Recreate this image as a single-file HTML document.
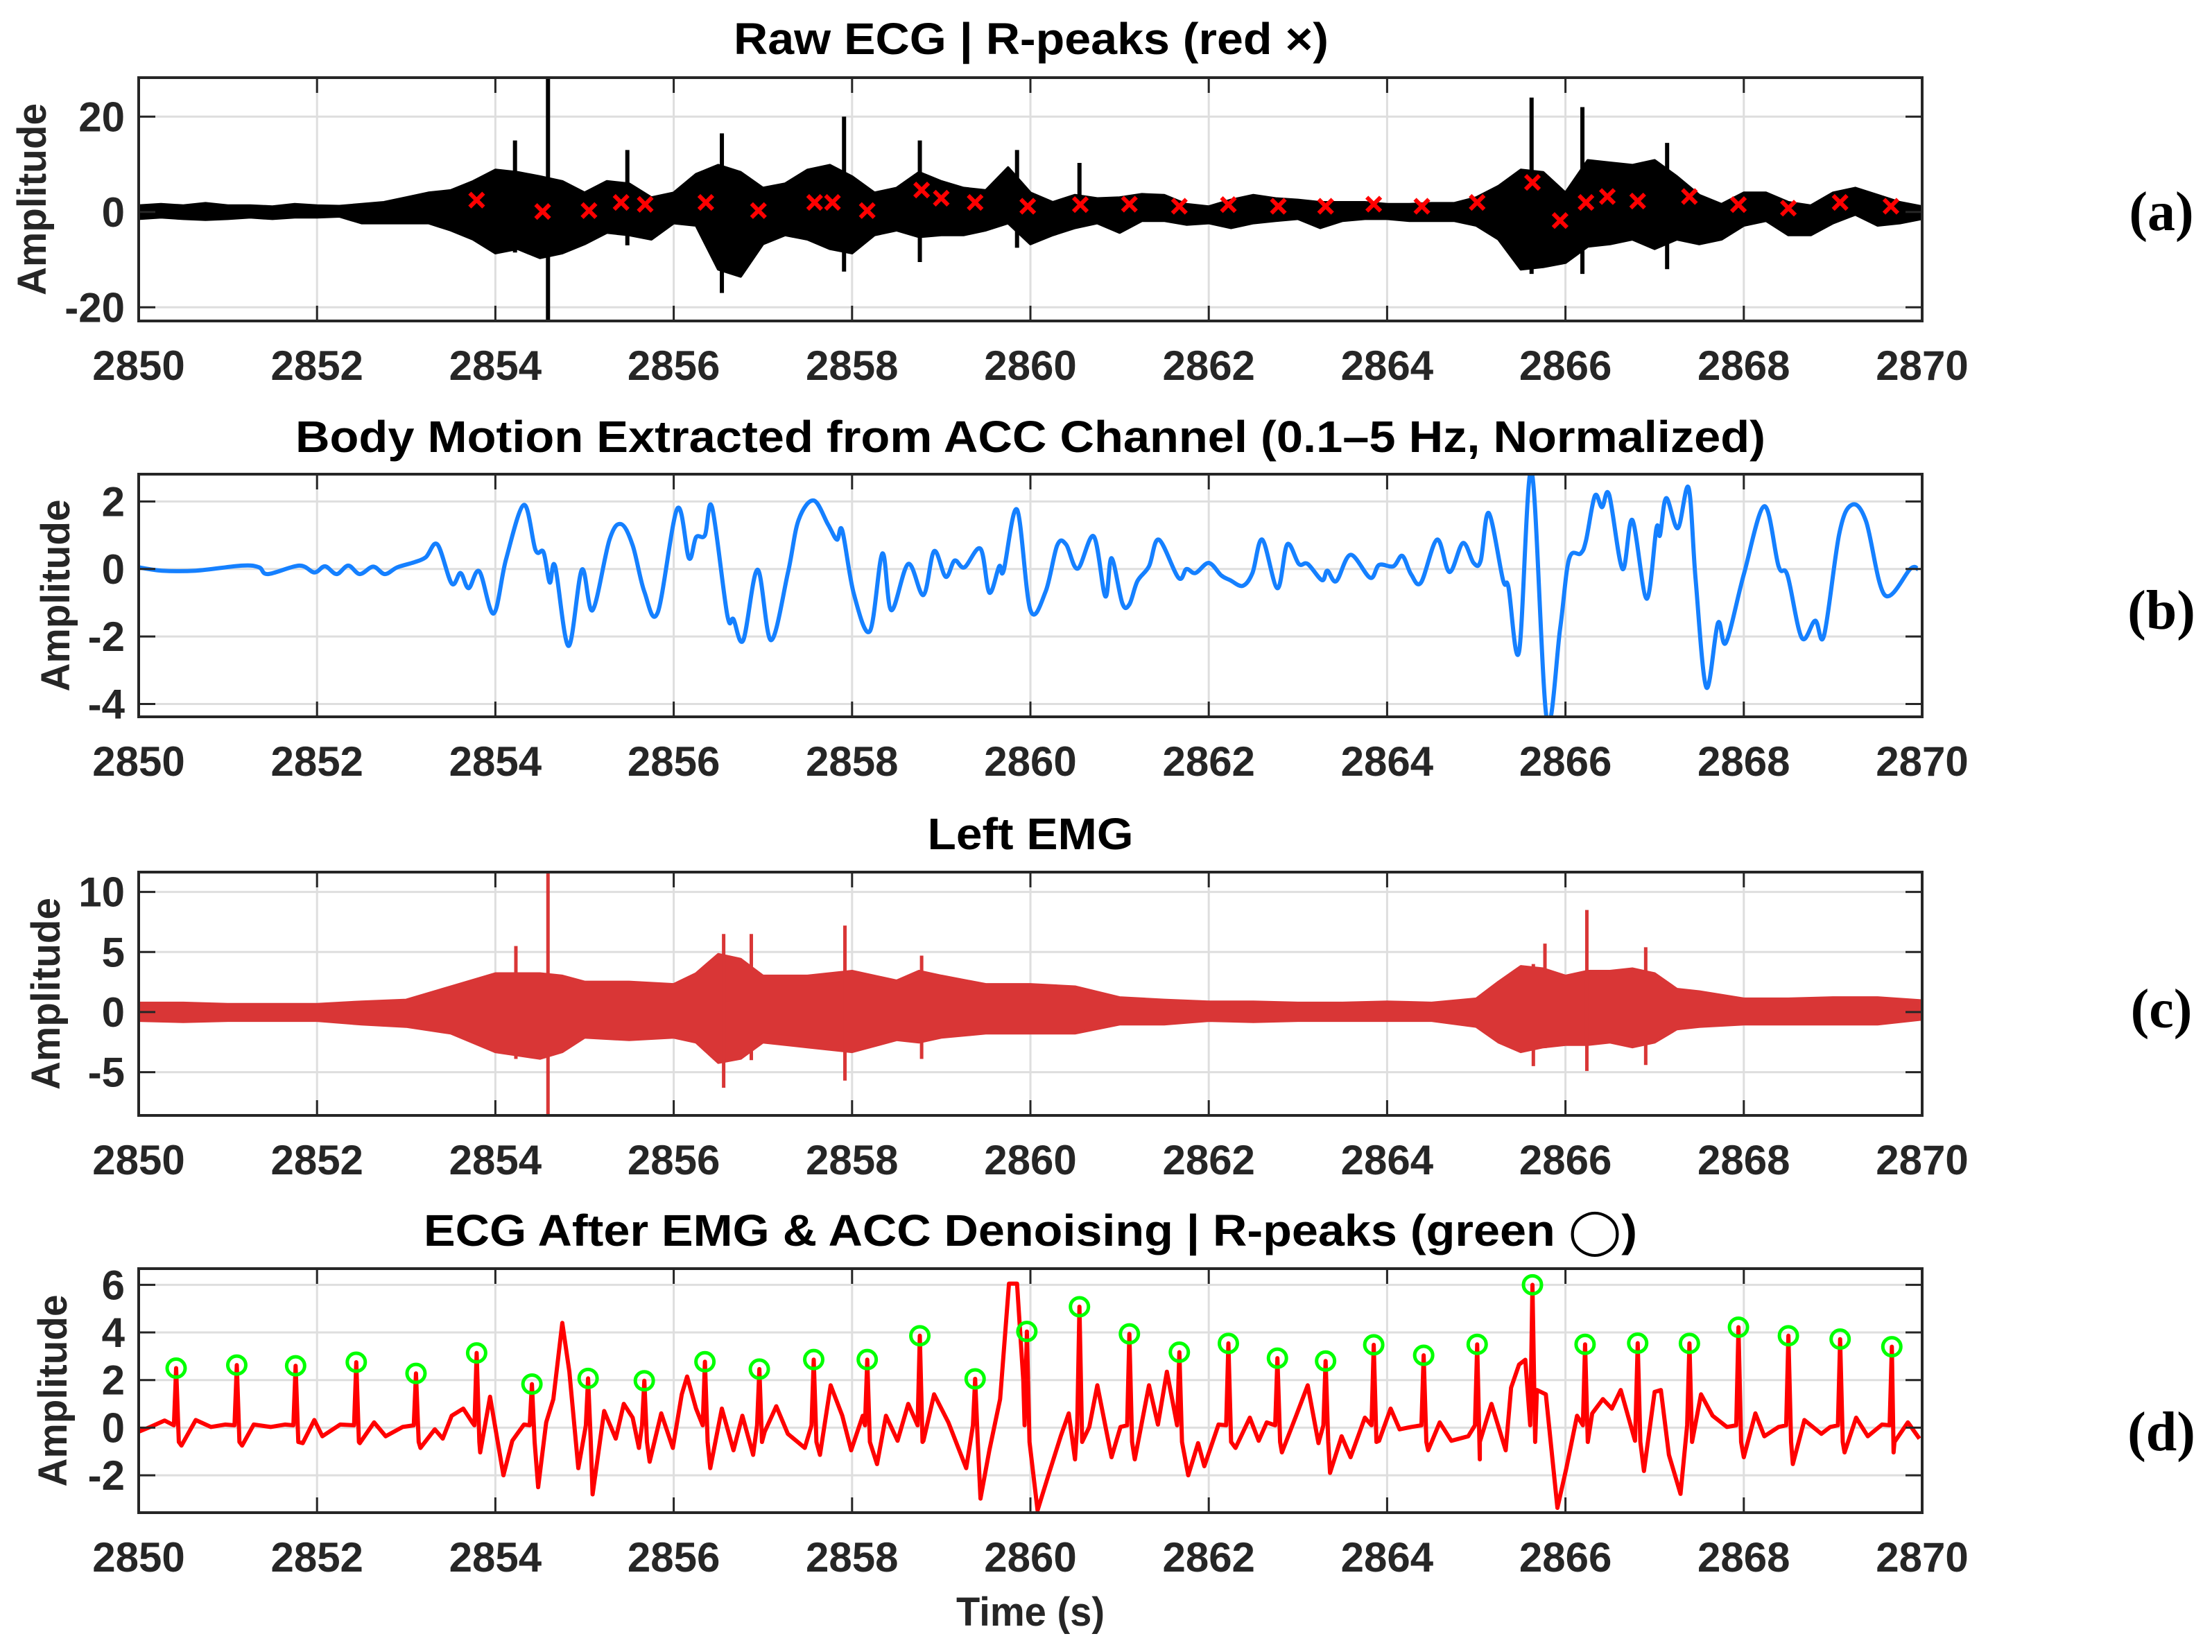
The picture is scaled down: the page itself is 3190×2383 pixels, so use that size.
<!DOCTYPE html>
<html><head><meta charset="utf-8"><title>ECG denoising figure</title>
<style>html,body{margin:0;padding:0;background:#fff}svg{display:block}</style></head>
<body>
<svg id="fig" xmlns="http://www.w3.org/2000/svg" width="3190" height="2383" viewBox="0 0 3190 2383">
<rect x="0" y="0" width="3190" height="2383" fill="#fff"/>
<text x="1487" y="78" text-anchor="middle" font-family="Liberation Sans, sans-serif" font-weight="bold" font-size="64" fill="#000" textLength="858" lengthAdjust="spacingAndGlyphs">Raw ECG | R-peaks (red ×)</text>
<text x="1486" y="652" text-anchor="middle" font-family="Liberation Sans, sans-serif" font-weight="bold" font-size="64" fill="#000" textLength="2120" lengthAdjust="spacingAndGlyphs">Body Motion Extracted from ACC Channel (0.1–5 Hz, Normalized)</text>
<text x="1486" y="1225" text-anchor="middle" font-family="Liberation Sans, sans-serif" font-weight="bold" font-size="64" fill="#000" textLength="297" lengthAdjust="spacingAndGlyphs">Left EMG</text>
<text x="1486" y="1797" text-anchor="middle" font-family="Liberation Sans, DejaVu Sans, sans-serif" font-weight="bold" font-size="64" fill="#000" textLength="1750" lengthAdjust="spacingAndGlyphs">ECG After EMG &amp; ACC Denoising | R-peaks (green ◯)</text>
<text x="1486" y="2345" text-anchor="middle" font-family="Liberation Sans, sans-serif" font-weight="bold" font-size="58" fill="#262626" textLength="214" lengthAdjust="spacingAndGlyphs">Time (s)</text>
<text x="3117" y="332" text-anchor="middle" font-family="Liberation Serif, serif" font-weight="bold" font-size="80" fill="#000">(a)</text>
<text x="3117" y="907" text-anchor="middle" font-family="Liberation Serif, serif" font-weight="bold" font-size="80" fill="#000">(b)</text>
<text x="3117" y="1482" text-anchor="middle" font-family="Liberation Serif, serif" font-weight="bold" font-size="80" fill="#000">(c)</text>
<text x="3117" y="2092" text-anchor="middle" font-family="Liberation Serif, serif" font-weight="bold" font-size="80" fill="#000">(d)</text>
</svg>
<script>
// ---------- data (time offsets in seconds from 2850) ----------
const xTicks = [2850,2852,2854,2856,2858,2860,2862,2864,2866,2868,2870];
// (a) raw ECG envelope, every 0.25 s
const aUp = [1.3,1.6,1.3,1.8,1.3,1.3,1.1,1.6,1.3,1.2,1.6,2,3,4,4.5,6.4,8.8,8.3,7.4,6.4,4,6.4,5.9,3,4,7.9,9.8,8.3,5,5.9,8.8,9.8,7.4,4,5,8.3,6.4,5,4.5,9.3,4,2,3.5,2.8,3,3.7,3.5,1.6,1.1,2.5,3.5,2.8,2.5,2,2,2,1.6,1.6,1.8,1.8,3,5.4,8.8,8.3,4,10.8,10.3,9.8,10.8,7.4,3.5,1.6,4,4,2,1.3,4,5,3.5,2,1.1];
const aLo = [-1.4,-1.1,-1.4,-1.6,-1.4,-1.1,-1.4,-1.1,-1.1,-0.9,-2.3,-2.3,-2.3,-2.3,-3.8,-5.7,-8.6,-7.7,-9.6,-8.6,-6.7,-4.3,-4.8,-5.7,-2.3,-2.8,-12,-13.5,-6.7,-4.8,-5.7,-7.7,-8.6,-4.8,-3.8,-5.2,-4.8,-4.8,-3.8,-2.3,-6.7,-4.8,-3.3,-2.3,-4.3,-1.8,-1.8,-2.6,-2.3,-3.3,-2.3,-1.8,-1.4,-3.3,-1.8,-1.4,-1.4,-1.8,-1.8,-1.8,-2.8,-5.7,-12,-11.5,-10.6,-7.2,-6.7,-5.7,-7.7,-5.7,-6.7,-5.7,-2.8,-1.8,-4.8,-4.8,-2.3,-0.5,-2.8,-2.3,-1.4];
const aSpikeT = [4.59,4.22,5.48,6.54,7.91,8.76,9.85,15.62,16.19,17.14,10.55];
const aSpikeHi = [28.2,15,13,16.5,20,15,13,24,22,14.5,10.3];
const aSpikeLo = [-22.9,-8.5,-7,-17,-12.5,-10.5,-7.5,-13,-13,-12,-3];
const aPeakT = [3.79,4.53,5.05,5.41,5.68,6.36,6.95,7.58,7.78,8.17,8.78,9.0,9.38,9.97,10.56,11.11,11.67,12.22,12.78,13.31,13.85,14.39,15.01,15.63,15.94,16.23,16.47,16.81,17.39,17.94,18.5,19.08,19.65];
const aPeakV = [2.5,0.1,0.3,2.0,1.6,2.0,0.3,2.0,2.0,0.3,4.6,2.9,2.0,1.2,1.55,1.65,1.2,1.55,1.2,1.2,1.65,1.2,2.0,6.2,-1.8,2.0,3.25,2.3,3.25,1.55,0.8,2.0,1.2];
// (b) body motion
const bT = [0,.26,.64,1.16,1.35,1.45,1.8,1.97,2.09,2.22,2.35,2.48,2.63,2.76,2.9,3.09,3.22,3.35,3.51,3.61,3.7,3.82,3.98,4.12,4.32,4.45,4.54,4.61,4.67,4.82,4.97,5.09,5.28,5.41,5.54,5.67,5.82,6.04,6.17,6.25,6.35,6.43,6.6,6.67,6.78,6.94,7.09,7.28,7.4,7.57,7.73,7.83,7.89,8.02,8.2,8.34,8.44,8.63,8.8,8.92,9.05,9.15,9.26,9.44,9.54,9.65,9.7,9.85,10,10.17,10.3,10.4,10.53,10.71,10.84,10.91,11.03,11.11,11.2,11.33,11.44,11.66,11.75,11.85,12,12.14,12.24,12.38,12.49,12.6,12.77,12.88,13.01,13.11,13.27,13.33,13.43,13.59,13.81,13.91,14.07,14.17,14.27,14.38,14.56,14.7,14.85,14.97,15.05,15.14,15.3,15.36,15.48,15.62,15.79,15.94,16.04,16.17,16.23,16.33,16.41,16.49,16.64,16.75,16.91,17.02,17.06,17.13,17.26,17.38,17.46,17.58,17.71,17.8,18,18.23,18.39,18.49,18.65,18.8,18.9,19.07,19.21,19.37,19.58,19.87,19.95];
const bV = [0.05,-0.05,-0.05,0.1,0.05,-0.15,0.1,-0.1,0.08,-0.15,0.1,-0.15,0.07,-0.15,0.05,0.2,0.35,0.73,-0.43,-0.12,-0.57,-0.07,-1.32,0.29,1.9,0.56,0.5,-0.4,0.08,-2.28,-0.02,-1.22,0.87,1.33,0.7,-0.67,-1.29,1.79,0.32,0.94,1.0,1.83,-1.36,-1.49,-2.11,-0.02,-2.11,-0.12,1.45,2.03,1.32,0.87,1.14,-0.74,-1.84,0.46,-1.22,0.15,-0.77,0.53,-0.23,0.25,0.05,0.6,-0.7,0.08,-0.05,1.76,-1.22,-0.67,0.7,0.73,0.01,0.97,-0.81,0.32,-1.01,-1.05,-0.36,0.08,0.87,-0.26,0,-0.12,0.18,-0.19,-0.33,-0.5,-0.12,0.87,-0.57,0.73,0.15,0.15,-0.33,-0.05,-0.36,0.42,-0.26,0.12,0.08,0.39,-0.16,-0.4,0.87,-0.09,0.77,0.18,0.25,1.66,-0.33,-0.53,-2.45,2.9,-4.44,-1.77,0.29,0.46,0.84,2.17,1.83,2.2,0,1.45,-0.88,1.21,1.0,2.1,1.21,2.41,-0.33,-3.51,-1.6,-2.18,-0.16,1.86,0.08,-0.19,-2.04,-1.53,-1.97,1.04,1.9,1.42,-0.77,0.01,0];
// (c) EMG envelope
const cT = [0,0.5,1,1.5,2,2.5,3,3.5,4,4.5,4.75,5,5.5,6,6.25,6.5,6.75,7,7.5,8,8.5,8.75,9,9.5,10,10.5,11,11.5,12,12.5,13,13.5,14,14.5,15,15.25,15.5,15.75,16,16.25,16.5,16.75,17,17.25,17.5,18,18.5,19,19.5,20];
const cUp = [.75,.75,.65,.65,.65,.85,1.0,2.1,3.2,3.2,3.0,2.5,2.5,2.3,3.2,4.8,4.4,3.0,3.0,3.4,2.6,3.4,3.0,2.3,2.3,2.1,1.2,1.0,.85,.85,.75,.75,.85,.75,1.1,2.5,3.8,3.6,3.0,3.4,3.4,3.6,3.2,1.9,1.7,1.1,1.1,1.2,1.2,.95];
const cLo = [-0.7,-0.8,-0.7,-0.7,-0.7,-1,-1.2,-1.75,-3.3,-3.85,-3.3,-2.1,-2.3,-2.1,-2.5,-4.2,-3.85,-2.5,-2.9,-3.3,-2.3,-2.5,-2.1,-1.75,-1.75,-1.75,-1,-1,-0.7,-0.8,-0.7,-0.7,-0.7,-0.7,-1.2,-2.5,-3.3,-2.9,-2.7,-2.7,-2.5,-2.9,-2.5,-1.4,-1.2,-1,-1,-1,-1,-0.6];
const cSpikeT = [4.59,7.92,6.56,6.87,16.24,15.77,15.64,16.9,4.23,8.78];
const cSpikeHi = [11.7,7.2,6.5,6.5,8.5,5.7,4,5.4,5.5,4.7];
const cSpikeLo = [-8.6,-5.7,-6.3,-4,-4.9,-3,-4.5,-4.4,-3.9,-3.9];
// (d) denoised ECG baseline + R peaks
const dT = [0,.13,.29,.48,.64,.81,.97,1.16,1.29,1.48,1.64,1.84,1.97,2.06,2.26,2.48,2.64,2.77,2.96,3.16,3.32,3.41,3.51,3.64,3.74,3.83,3.94,4.09,4.19,4.32,4.48,4.57,4.65,4.75,4.83,4.93,5.09,5.22,5.35,5.44,5.54,5.61,5.73,5.86,5.99,6.09,6.15,6.25,6.41,6.54,6.67,6.77,6.89,7.02,7.15,7.28,7.47,7.64,7.76,7.89,7.99,8.12,8.28,8.38,8.51,8.63,8.8,8.92,9.08,9.28,9.44,9.54,9.66,9.76,9.85,9.92,10.08,10.21,10.34,10.43,10.5,10.66,10.75,10.91,11.01,11.17,11.33,11.43,11.53,11.62,11.77,11.88,11.95,12.11,12.3,12.46,12.56,12.65,12.82,12.98,13.11,13.23,13.36,13.49,13.59,13.75,13.91,14.04,14.14,14.27,14.46,14.59,14.72,14.91,15.04,15.17,15.33,15.39,15.48,15.55,15.68,15.78,15.91,16.01,16.13,16.3,16.42,16.52,16.62,16.78,16.88,17.0,17.07,17.16,17.29,17.52,17.65,17.81,18.0,18.13,18.23,18.39,18.55,18.68,18.87,18.97,19.13,19.26,19.39,19.55,19.68,19.84,19.97];
const dV = [-0.17,0.03,0.3,-0.75,0.32,0.03,0.13,-0.75,0.13,0.03,0.13,-0.65,0.32,-0.36,0.13,-0.65,0.22,-0.36,0.03,-0.85,-0.07,-0.46,0.5,0.8,0.22,-1.04,1.3,-2.0,-0.55,0.13,-2.5,0.22,1.2,4.4,2.35,-1.7,-2.8,0.7,-0.46,1.0,0.42,-0.85,-1.43,0.6,-0.85,1.4,2.15,0.8,-1.7,0.8,-0.95,0.5,-1.14,-0.17,0.9,-0.26,-0.85,-1.14,1.78,0.5,-0.95,0.5,-1.53,0.5,-0.55,1.0,-0.55,1.4,0.22,-1.7,-2.98,-0.95,1.2,6.05,6.05,2.0,-3.47,-1.9,-0.36,0.6,-1.33,0.03,1.78,-1.24,0.03,-1.33,1.78,0.13,2.35,0.6,-2.0,-0.65,-1.62,0.13,-0.85,0.42,-0.55,0.22,-1.04,0.5,1.78,-0.65,-1.9,-0.36,-1.24,0.42,-0.55,0.8,-0.07,0.03,-0.95,0.22,-0.55,-0.36,-1.33,1.0,-0.95,1.68,2.65,2.85,1.58,1.4,-3.37,-1.7,0.5,0.6,1.2,0.8,1.58,-0.55,-1.82,1.5,1.58,-1.14,-2.78,1.4,0.5,0.03,-1.24,0.6,-0.36,0.03,-1.53,0.32,-0.26,0.03,-1.04,0.42,-0.36,0.13,-1.04,0.22,-0.46];
const dPeakT = [0.42,1.10,1.76,2.44,3.11,3.79,4.41,5.04,5.67,6.35,6.96,7.57,8.17,8.76,9.38,9.96,10.55,11.11,11.67,12.22,12.77,13.31,13.85,14.41,15.01,15.63,16.22,16.81,17.39,17.94,18.5,19.08,19.66];
const dPeakV = [2.5,2.63,2.6,2.75,2.28,3.14,1.83,2.07,1.97,2.77,2.46,2.86,2.86,3.86,2.05,4.04,5.08,3.94,3.17,3.54,2.92,2.8,3.48,3.04,3.5,6.0,3.5,3.55,3.54,4.22,3.86,3.72,3.4];
const aYTicks = [-20,0,20];
const bYTicks = [-4,-2,0,2];
const cYTicks = [-5,0,5,10];
const dYTicks = [-2,0,2,4,6];

// ---------- layout ----------
const NS = 'http://www.w3.org/2000/svg';
const svg = document.getElementById('fig');
const X0 = 200, X1 = 2772;
const panels = [
  {id:'a', top:112, bot:463, ymin:-22.87, ymax:28.19, ticks:aYTicks, ylx:46},
  {id:'b', top:684, bot:1034, ymin:-4.38, ymax:2.81, ticks:bYTicks, ylx:80},
  {id:'c', top:1258, bot:1609, ymin:-8.6, ymax:11.65, ticks:cYTicks, ylx:66},
  {id:'d', top:1830, bot:2182, ymin:-3.57, ymax:6.68, ticks:dYTicks, ylx:76}
];
function xs(t){ return X0 + (t/20)*(X1-X0); }
function xsAbs(v){ return xs(v-2850); }
function ysF(p){ return v => p.bot - (v-p.ymin)/(p.ymax-p.ymin)*(p.bot-p.top); }
function mk(tag, attrs, parent){
  const e = document.createElementNS(NS, tag);
  for (const k in attrs) e.setAttribute(k, attrs[k]);
  (parent||svg).appendChild(e);
  return e;
}
function smoothPath(pts){
  let d = 'M'+pts[0][0].toFixed(1)+','+pts[0][1].toFixed(1);
  for (let i=0;i<pts.length-1;i++){
    const p0=pts[Math.max(0,i-1)], p1=pts[i], p2=pts[i+1], p3=pts[Math.min(pts.length-1,i+2)];
    const c1x=p1[0]+(p2[0]-p0[0])/6, c1y=p1[1]+(p2[1]-p0[1])/6;
    const c2x=p2[0]-(p3[0]-p1[0])/6, c2y=p2[1]-(p3[1]-p1[1])/6;
    d+=' C'+c1x.toFixed(1)+','+c1y.toFixed(1)+' '+c2x.toFixed(1)+','+c2y.toFixed(1)+' '+p2[0].toFixed(1)+','+p2[1].toFixed(1);
  }
  return d;
}
const defs = mk('defs', {});

panels.forEach(p => {
  const y = ysF(p);
  const g = mk('g', {});
  
  
  const cp = mk('clipPath', {id:'clip-'+p.id}, defs);
  mk('rect', {x:X0, y:p.top, width:X1-X0, height:p.bot-p.top}, cp);
  const grid = mk('g', {stroke:'#dedede', 'stroke-width':3}, g);
  
  
  xTicks.forEach(t => { mk('line', {x1:xsAbs(t), x2:xsAbs(t), y1:p.top, y2:p.bot}, grid); });
  p.ticks.forEach(v => { mk('line', {x1:X0, x2:X1, y1:y(v), y2:y(v)}, grid); });
  const dg = mk('g', {'clip-path':'url(#clip-'+p.id+')'}, g);
  
  
  p.y = y; p.dg = dg; p.g = g;
});

// (a) raw ECG
(function(){
  const p = panels[0], y = p.y;
  let pts = [];
  aUp.forEach((v,i) => pts.push(xs(i*0.25).toFixed(1)+','+y(v).toFixed(1)));
  for (let i=aLo.length-1;i>=0;i--) pts.push(xs(i*0.25).toFixed(1)+','+y(aLo[i]).toFixed(1));
  const env = mk('polygon', {points:pts.join(' '), fill:'#000', stroke:'#000', 'stroke-width':4, 'stroke-linejoin':'round'}, p.dg);
  
  
  aSpikeT.forEach((t,i) => {
    const l = mk('line', {x1:xs(t), x2:xs(t), y1:y(aSpikeHi[i]), y2:y(aSpikeLo[i]), stroke:'#000', 'stroke-width':6}, p.dg);
    
    
  });
  aPeakT.forEach((t,i) => {
    const cx = xs(t), cy = y(aPeakV[i]), s = 10;
    const m = mk('path', {d:`M${cx-s},${cy-s}L${cx+s},${cy+s}M${cx-s},${cy+s}L${cx+s},${cy-s}`, stroke:'#ff0000', 'stroke-width':6, fill:'none'}, p.dg);
    
    
  });
})();

// (b) body motion
(function(){
  const p = panels[1], y = p.y;
  const pts = bT.map((t,i) => [xs(t), y(bV[i])]);
  const l = mk('path', {d:smoothPath(pts), stroke:'#1580ff', 'stroke-width':6, fill:'none', 'stroke-linejoin':'round'}, p.dg);
  
  
})();

// (c) EMG
(function(){
  const p = panels[2], y = p.y;
  let pts = [];
  cT.forEach((t,i) => pts.push(xs(t).toFixed(1)+','+y(cUp[i]).toFixed(1)));
  for (let i=cT.length-1;i>=0;i--) pts.push(xs(cT[i]).toFixed(1)+','+y(cLo[i]).toFixed(1));
  const env = mk('polygon', {points:pts.join(' '), fill:'#d93636', stroke:'#d93636', 'stroke-width':4, 'stroke-linejoin':'round'}, p.dg);
  
  
  cSpikeT.forEach((t,i) => {
    const l = mk('line', {x1:xs(t), x2:xs(t), y1:y(cSpikeHi[i]), y2:y(cSpikeLo[i]), stroke:'#d93636', 'stroke-width':5}, p.dg);
    
    
  });
})();

// (d) denoised ECG
(function(){
  const p = panels[3], y = p.y;
  const all = dT.map((t,i) => ({t:t, v:dV[i]}));
  dPeakT.forEach((t,i) => {
    all.push({t:t-0.025, v:0.1});
    all.push({t:t, v:dPeakV[i]});
    all.push({t:t+0.03, v:-0.6});
  });
  all.sort((a,b) => a.t-b.t);
  const d = all.map((o,i) => (i?'L':'M')+xs(o.t).toFixed(1)+','+y(o.v).toFixed(1)).join('');
  const l = mk('path', {d:d, stroke:'#ff0000', 'stroke-width':6, fill:'none', 'stroke-linejoin':'round'}, p.dg);
  
  
  dPeakT.forEach((t,i) => {
    const c = mk('circle', {cx:xs(t), cy:y(dPeakV[i]), r:13, fill:'none', stroke:'#00ff00', 'stroke-width':5}, p.dg);
    
    
  });
})();

// axes frames, ticks, labels
panels.forEach(p => {
  const y = p.y, g = p.g;
  const ax = mk('g', {}, g);
  
  
  mk('rect', {x:X0, y:p.top, width:X1-X0, height:p.bot-p.top, fill:'none', stroke:'#262626', 'stroke-width':4}, ax);
  xTicks.forEach(t => {
    const x = xsAbs(t);
    mk('line', {x1:x, x2:x, y1:p.bot, y2:p.bot-22, stroke:'#262626', 'stroke-width':3}, ax);
    mk('line', {x1:x, x2:x, y1:p.top, y2:p.top+22, stroke:'#262626', 'stroke-width':3}, ax);
    const tx = mk('text', {x:x, y:p.bot+85, 'text-anchor':'middle', 'font-family':'Liberation Sans, sans-serif', 'font-weight':'bold', 'font-size':60, fill:'#262626'}, ax);
    
    
    tx.textContent = t;
  });
  p.ticks.forEach(v => {
    const yy = y(v);
    mk('line', {x1:X0, x2:X0+24, y1:yy, y2:yy, stroke:'#262626', 'stroke-width':3}, ax);
    mk('line', {x1:X1, x2:X1-24, y1:yy, y2:yy, stroke:'#262626', 'stroke-width':3}, ax);
    const tx = mk('text', {x:180, y:yy+21, 'text-anchor':'end', 'font-family':'Liberation Sans, sans-serif', 'font-weight':'bold', 'font-size':60, fill:'#262626'}, ax);
    
    
    tx.textContent = v;
  });
  const cy = (p.top+p.bot)/2;
  const yl = mk('text', {transform:`translate(${p.ylx},${cy}) rotate(-90)`, y:20, 'text-anchor':'middle', 'font-family':'Liberation Sans, sans-serif', 'font-weight':'bold', 'font-size':58, fill:'#262626', textLength:277, lengthAdjust:'spacingAndGlyphs'}, ax);
  
  
  yl.textContent = 'Amplitude';
});
</script>
</body></html>
